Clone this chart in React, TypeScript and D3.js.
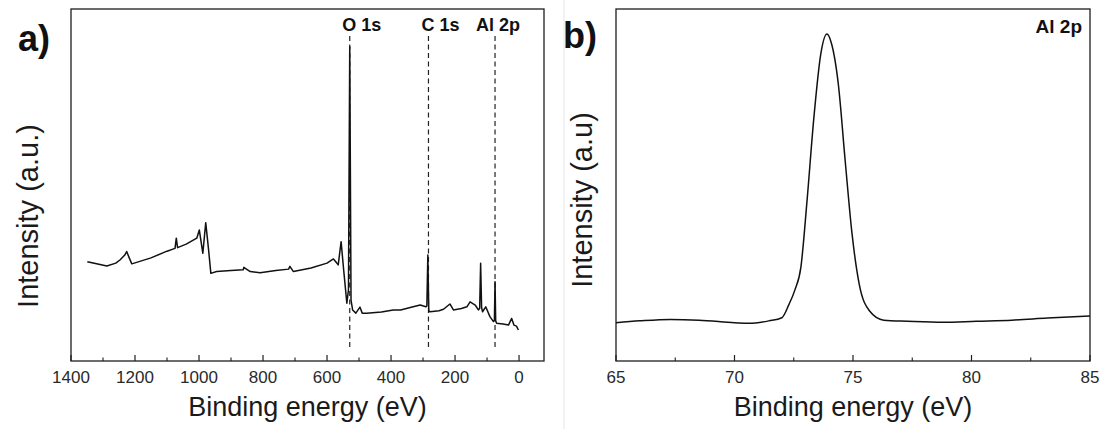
import * as d3 from "d3";

// panel a: XPS survey spectrum (binding energy eV, intensity a.u.)
const surveyEnergy = [
  1349, 1320, 1288, 1260, 1247, 1232, 1226, 1218, 1210, 1150, 1100, 1075, 1071, 1067, 1040, 1007,
  999, 988, 979, 970, 963, 945, 900, 862, 860, 840, 809, 760, 720, 716, 705, 650, 600, 580, 572,
  565, 556, 548, 538, 533, 529, 525, 520, 510, 497, 490, 476, 430, 393, 370, 340, 309, 291, 288,
  285, 282, 278, 250, 236, 216, 205, 180, 163, 153, 137, 127, 123, 120, 117, 114, 104, 91, 80, 77,
  75, 73, 70, 50, 33, 23, 16, 8, 2,
];
const surveyIntensity = [
  28.2, 27.6, 27.0, 27.8, 28.7, 30.1, 31.1, 29.3, 27.6, 29.3, 31.2, 32.0, 34.9, 32.2, 33.2, 34.9,
  37.2, 30.6, 39.3, 31.5, 24.9, 25.4, 25.7, 25.9, 26.6, 25.4, 25.1, 25.7, 26.1, 26.9, 25.4, 26.4,
  27.8, 29.0, 28.1, 27.3, 33.9, 25.9, 16.4, 20.2, 89.3, 17.3, 14.5, 13.6, 15.3, 13.6, 13.6, 13.9,
  14.5, 14.5, 15.2, 15.9, 15.4, 15.6, 30.1, 14.2, 14.0, 14.3, 14.7, 16.2, 14.5, 14.9, 15.4, 16.8,
  15.9, 14.5, 15.0, 27.8, 15.2, 14.0, 15.4, 12.6, 11.2, 11.6, 22.5, 11.4, 10.7, 10.5, 10.2, 12.1,
  10.2, 9.9, 8.8,
];

// panel b: Al 2p high-resolution region
const alEnergy = [
  65.0, 66.0, 67.3, 68.5, 70.0, 70.6, 71.45, 72.0, 72.3, 72.55, 72.8, 73.06, 73.35, 73.64, 73.9,
  74.08, 74.38, 74.67, 74.96, 75.26, 75.7, 76.3, 77.3, 78.8, 80.2, 81.7, 83.2, 85.0,
];
const alIntensity = [
  10.9, 11.4, 11.8, 11.6, 10.9, 10.7, 11.4, 12.3, 16.1, 20.2, 26.6, 45.5, 69.2, 87.2, 92.9, 90.5,
  78.7, 56.9, 36.1, 21.9, 14.2, 11.6, 11.3, 11.0, 11.3, 11.6, 12.2, 12.8,
];

const peakNames = ["O 1s", "C 1s", "Al 2p"];
const peakEnergy = [529, 283, 75];

const surveyMajor = [1400, 1200, 1000, 800, 600, 400, 200, 0];
const surveyMinor = [1300, 1100, 900, 700, 500, 300, 100];
const alMajor = [65, 70, 75, 80, 85];
const alMinor = [67.5, 72.5, 77.5, 82.5];

const W = 1105;
const H = 429;
const top = 9;
const bottom = 361;
const font = "'Liberation Sans', Arial, sans-serif";
const frame = "#1e1e1e";

const y = d3.scaleLinear().domain([0, 100]).range([bottom, top]);

const Axis = ({ x, major, minor }: { x: d3.ScaleLinear<number, number>; major: number[]; minor: number[] }) => (
  <g>
    {major.map((t) => (
      <g key={"M" + t}>
        <line x1={x(t)} x2={x(t)} y1={bottom} y2={bottom - 6} stroke={frame} strokeWidth={1.2} />
        <text x={x(t)} y={383} fontSize={17} textAnchor="middle" fill="#2a2a2a" fontFamily={font}>
          {t}
        </text>
      </g>
    ))}
    {minor.map((t) => (
      <line key={"m" + t} x1={x(t)} x2={x(t)} y1={bottom} y2={bottom - 3.5} stroke={frame} strokeWidth={1.1} />
    ))}
  </g>
);

export default function App() {
  const xa = d3.scaleLinear().domain([1400, -78]).range([71, 544]);
  const xb = d3.scaleLinear().domain([65, 85]).range([616, 1090]);

  const lineA = d3
    .line<number>()
    .x((_, i) => xa(surveyEnergy[i]))
    .y((d) => y(d));
  const lineB = d3
    .line<number>()
    .x((_, i) => xb(alEnergy[i]))
    .y((d) => y(d))
    .curve(d3.curveMonotoneX);

  return (
    <svg width={W} height={H} style={{ position: "absolute", left: 0, top: 0, background: "#fff" }}>
      <rect width={W} height={H} fill="#fff" />
      <line x1={564} x2={564} y1={0} y2={H} stroke="#e6e6e6" strokeWidth={1} />

      {/* panel a */}
      <text x={18} y={51} fontSize={36} fontWeight="bold" fontFamily={font} fill="#111">
        a)
      </text>
      <rect x={71} y={top} width={544 - 71} height={bottom - top} fill="none" stroke={frame} strokeWidth={1.3} />
      <Axis x={xa} major={surveyMajor} minor={surveyMinor} />
      {peakEnergy.map((e, i) => (
        <g key={peakNames[i]}>
          <line x1={xa(e)} x2={xa(e)} y1={36} y2={347} stroke="#222" strokeWidth={1.2} strokeDasharray="5,3.5" />
          <text
            x={xa(e) + (i === 2 ? 3 : 12)}
            y={31}
            fontSize={18}
            fontWeight="bold"
            textAnchor="middle"
            fontFamily={font}
            fill="#111"
          >
            {peakNames[i]}
          </text>
        </g>
      ))}
      <path d={lineA(surveyIntensity) ?? ""} fill="none" stroke="#111" strokeWidth={1.5} strokeLinejoin="round" />
      <text x={307.5} y={416} fontSize={27} textAnchor="middle" fontFamily={font} fill="#1a1a1a">
        Binding energy (eV)
      </text>
      <text
        transform="translate(38,216) rotate(-90)"
        fontSize={29}
        textAnchor="middle"
        fontFamily={font}
        fill="#1a1a1a"
      >
        Intensity (a.u.)
      </text>

      {/* panel b */}
      <text x={563} y={48} fontSize={36} fontWeight="bold" fontFamily={font} fill="#111">
        b)
      </text>
      <rect x={616} y={top} width={1090 - 616} height={bottom - top} fill="none" stroke={frame} strokeWidth={1.3} />
      <Axis x={xb} major={alMajor} minor={alMinor} />
      <path d={lineB(alIntensity) ?? ""} fill="none" stroke="#111" strokeWidth={1.5} />
      <text x={1082} y={33} fontSize={19} fontWeight="bold" textAnchor="end" fontFamily={font} fill="#111">
        Al 2p
      </text>
      <text x={853} y={416} fontSize={27} textAnchor="middle" fontFamily={font} fill="#1a1a1a">
        Binding energy (eV)
      </text>
      <text
        transform="translate(592,200) rotate(-90)"
        fontSize={29}
        textAnchor="middle"
        fontFamily={font}
        fill="#1a1a1a"
      >
        Intensity (a.u)
      </text>
    </svg>
  );
}
